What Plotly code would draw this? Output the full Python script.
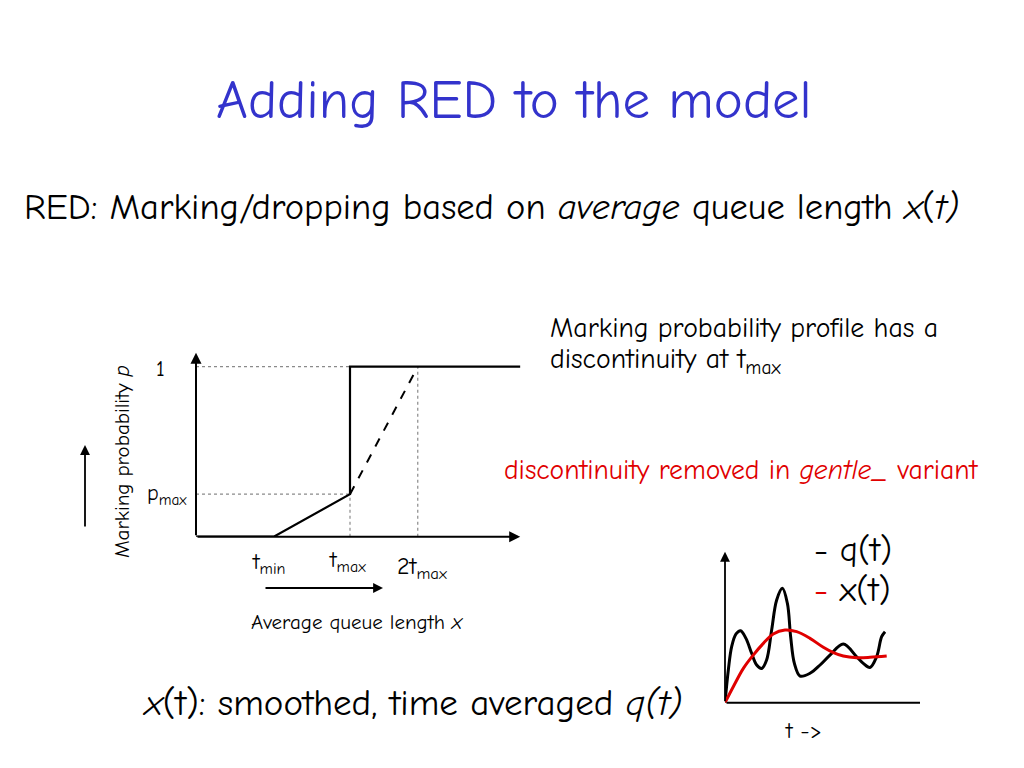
import plotly.graph_objects as go

OFF = 8  # page body margin of the browser
W, H = 1024 - 2 * OFF, 768 - 2 * OFF
FONT = "Comic Sans MS, Comic Neue, Noto Sans, sans-serif"

# ---- RED marking profile (x in units of t_min ~ 1) ----
t_min = 1.01
t_max = 2.0
two_t_max = 2.88
x_end = 4.21
p_max = 0.25
p_one = 1.0
profile_x = [0, t_min, t_max, t_max, x_end]
profile_p = [0, 0, p_max, p_one, p_one]
gentle_x = [t_max, two_t_max]
gentle_p = [p_max, p_one]

# ---- q(t) and x(t) sketch ----
q_t = [0, 0.205, 0.41, 0.68, 0.96, 1.29, 1.64, 1.95, 2.26, 2.56, 2.87, 3.18, 3.53,
       3.84, 4.04, 4.27, 4.62, 5.23, 5.85, 6.46, 7.28, 8.10, 8.51, 8.92, 9.33, 9.64, 9.85]
q_v = [0, 2.01, 3.45, 4.23, 4.43, 3.96, 3.04, 2.32, 2.11, 2.63, 4.47, 6.32, 7.04,
       6.11, 4.06, 2.42, 1.64, 1.81, 2.32, 2.93, 3.61, 2.83, 2.42, 2.17, 2.83, 4.06, 4.37]
x_t = [0, 0.51, 1.13, 1.74, 2.36, 2.97, 3.69, 4.41, 5.23, 6.05, 6.67, 7.28, 8.10, 8.92, 9.95]
x_v = [0, 0.98, 2.11, 2.93, 3.65, 4.23, 4.47, 4.37, 3.96, 3.41, 3.08, 2.87, 2.77, 2.79, 2.87]


def px(x):
    return (x - OFF) / W


def py(y):
    return 1 - (y - OFF) / H


fig = go.Figure()

# dotted guide lines
dot = dict(color="#8a8a8a", width=1.2, dash="dot")
fig.add_trace(go.Scatter(x=[0, t_max], y=[p_one, p_one], mode="lines", line=dot, xaxis="x", yaxis="y"))
fig.add_trace(go.Scatter(x=[0, t_max], y=[p_max, p_max], mode="lines", line=dot, xaxis="x", yaxis="y"))
fig.add_trace(go.Scatter(x=[t_max, t_max], y=[0, p_max], mode="lines", line=dot, xaxis="x", yaxis="y"))
fig.add_trace(go.Scatter(x=[two_t_max, two_t_max], y=[0, p_one], mode="lines", line=dot, xaxis="x", yaxis="y"))

# profile
fig.add_trace(go.Scatter(x=profile_x, y=profile_p, mode="lines",
                         line=dict(color="black", width=2.2), xaxis="x", yaxis="y"))
fig.add_trace(go.Scatter(x=gentle_x, y=gentle_p, mode="lines",
                         line=dict(color="black", width=2, dash="dash"), xaxis="x", yaxis="y"))

# q(t), x(t)
fig.add_trace(go.Scatter(x=q_t, y=q_v, mode="lines", line=dict(color="black", width=3, shape="spline", smoothing=1.0),
                         xaxis="x2", yaxis="y2"))
fig.add_trace(go.Scatter(x=x_t, y=x_v, mode="lines", line=dict(color="#e00000", width=3, shape="spline", smoothing=1.0),
                         xaxis="x2", yaxis="y2"))

ann = []


def text(x, y, s, size, color="black", xanchor="left", angle=0):
    ann.append(dict(x=px(x), y=py(y), xref="paper", yref="paper", text=s, showarrow=False,
                    xanchor=xanchor, yanchor="middle", textangle=angle,
                    font=dict(family=FONT, size=size, color=color)))


# axis arrows for the profile chart
ann.append(dict(x=0, y=1.082, ax=0, ay=0, xref="x", yref="y", axref="x", ayref="y",
                showarrow=True, arrowhead=2, arrowsize=1.1, arrowwidth=2, arrowcolor="black", text=""))
ann.append(dict(x=x_end, y=0, ax=0, ay=0, xref="x", yref="y", axref="x", ayref="y",
                showarrow=True, arrowhead=2, arrowsize=1.1, arrowwidth=2, arrowcolor="black", text=""))
# axis lines for q/x sketch
ann.append(dict(x=0, y=9.29, ax=0, ay=0, xref="x2", yref="y2", axref="x2", ayref="y2",
                showarrow=True, arrowhead=2, arrowsize=1.1, arrowwidth=1.8, arrowcolor="black", text=""))
ann.append(dict(x=12, y=0, ax=0, ay=0, xref="x2", yref="y2", axref="x2", ayref="y2",
                showarrow=True, arrowhead=0, arrowwidth=2, arrowcolor="black", text=""))
# free arrows
ann.append(dict(x=px(85), y=py(445), xref="paper", yref="paper", ax=0, ay=83,
                showarrow=True, arrowhead=2, arrowsize=1.1, arrowwidth=1.8, arrowcolor="black", text=""))
ann.append(dict(x=px(383), y=py(588), xref="paper", yref="paper", ax=-119, ay=0,
                showarrow=True, arrowhead=2, arrowsize=1.1, arrowwidth=1.8, arrowcolor="black", text=""))

text(514, 100, "Adding RED to the model", 55, color="#3333cc", xanchor="center")
text(22, 207, "RED: Marking/dropping based on <i>average</i> queue length <i>x</i>(<i>t)</i>", 36.5)
text(548, 328, "Marking probability profile has a", 27.8)
text(548, 361, "discontinuity at t<sub>max</sub>", 27.8)
text(502, 470, "discontinuity removed in <i>gentle_</i> variant", 27.6, color="#e00000")
text(160, 369, "1", 22, xanchor="center")
text(145, 494, "p<sub>max</sub>", 22)
text(250, 563, "t<sub>min</sub>", 23)
text(327, 561, "t<sub>max</sub>", 23)
text(395, 567, "2t<sub>max</sub>", 24)
text(357, 622, "Average queue length <i>x</i>", 21, xanchor="center")
text(122, 462, "Marking probability <i>p</i>", 21, xanchor="center", angle=-90)
text(812, 549, "- q(t)", 35)
text(812, 589, "<span style='color:#e00000'>-</span> x(t)", 35)
text(803, 730, "t ->", 23, xanchor="center")
text(140, 703, "<i>x</i>(t): smoothed, time averaged <i>q(t)</i>", 37)

fig.update_layout(
    width=W, height=H, margin=dict(l=0, r=0, t=0, b=0),
    paper_bgcolor="white", plot_bgcolor="rgba(0,0,0,0)", showlegend=False,
    xaxis=dict(domain=[px(196), px(196 + 77 * 4.4)], range=[0, 4.4], visible=False, fixedrange=True),
    yaxis=dict(domain=[py(536.7), py(536.7 - 170 * 1.1)], range=[0, 1.1], visible=False, fixedrange=True),
    xaxis2=dict(domain=[px(725), px(725 + 16.25 * 12)], range=[0, 12], visible=False, anchor="y2"),
    yaxis2=dict(domain=[py(702.7), py(702.7 - 16.25 * 9.5)], range=[0, 9.5], visible=False, anchor="x2"),
    annotations=ann,
    font=dict(family=FONT),
)

fig.write_html("out.html")
